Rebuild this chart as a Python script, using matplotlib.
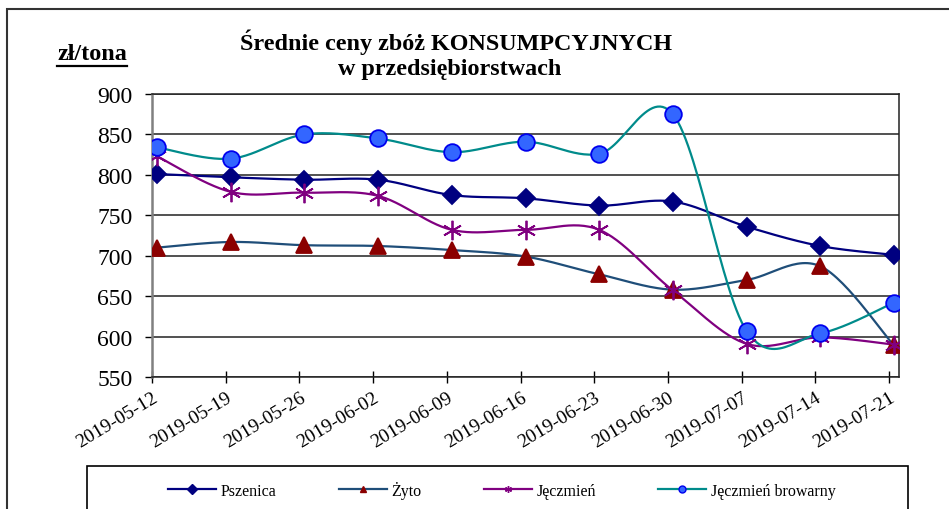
#Average prices of consumer grain in enterprises - line chart with smoothed lines
import matplotlib
matplotlib.use("Agg")
import matplotlib.pyplot as plt
from matplotlib.patches import Rectangle
from matplotlib.lines import Line2D
from matplotlib.transforms import ScaledTranslation
import numpy as np

plt.rcParams['font.family'] = ['Liberation Serif', 'DejaVu Serif']

DATES = ["2019-05-12", "2019-05-19", "2019-05-26", "2019-06-02", "2019-06-09", "2019-06-16",
         "2019-06-23", "2019-06-30", "2019-07-07", "2019-07-14", "2019-07-21"]
PSZENICA = [801, 797, 794, 794, 775, 771, 762, 767, 736, 712, 701]     #Pszenica (diamonds)
ZYTO = [710, 717, 713, 712, 707, 699, 677, 658, 670, 687, 589]         #Żyto (triangles)
JECZMIEN = [823, 779, 778, 774, 732, 732, 732, 657, 591, 599, 590]     #Jęczmień (stars)
BROWARNY = [834, 820, 850, 845, 828, 841, 826, 875, 607, 604, 642]     #Jęczmień browarny (circles)
YTICKS = [550, 600, 650, 700, 750, 800, 850, 900]


def smooth(y, n=30):
    #Catmull-Rom style bezier, like the "smoothed line" option in a spreadsheet
    x = np.arange(len(y), dtype=float)
    y = np.asarray(y, dtype=float)
    xs, ys = [], []
    for i in range(len(y) - 1):
        i0 = max(i - 1, 0)
        i3 = min(i + 2, len(y) - 1)
        p0 = np.array([x[i], y[i]])
        p3 = np.array([x[i + 1], y[i + 1]])
        c1 = p0 + (np.array([x[i + 1], y[i + 1]]) - np.array([x[i0], y[i0]])) / 6.0
        c2 = p3 - (np.array([x[i3], y[i3]]) - np.array([x[i], y[i]])) / 6.0
        t = np.linspace(0, 1, n)[:, None]
        pts = (1 - t) ** 3 * p0 + 3 * (1 - t) ** 2 * t * c1 + 3 * (1 - t) * t ** 2 * c2 + t ** 3 * p3
        xs.extend(pts[:, 0])
        ys.extend(pts[:, 1])
    return np.array(xs), np.array(ys)


fig = plt.figure(figsize=(9.49, 5.10), dpi=100)
ax = fig.add_axes([152 / 949, 1 - 378 / 510, (899 - 152) / 949, (378 - 95) / 510])

X = np.arange(len(DATES))
series = [
    (PSZENICA, '#000080', 'D', '#000080', '#000080', 9.5, 'Pszenica'),
    (ZYTO, '#1F4E79', '^', '#8B0000', '#8B0000', 12, 'Żyto'),
    (JECZMIEN, '#800080', (6, 2, 0), '#800080', '#800080', 14, 'Jęczmień'),
    (BROWARNY, '#008B8B', 'o', '#3366FF', '#0000EE', 12, 'Jęczmień browarny'),
]
handles = []
for vals, lc, mk, mfc, mec, ms, lab in series:
    sx, sy = smooth(vals)
    ax.plot(sx, sy, color=lc, lw=1.6, zorder=3)
    ax.plot(X, vals, ls='none', marker=mk, markersize=ms, markerfacecolor=mfc,
            markeredgecolor=mec, markeredgewidth=1.3, zorder=4)
    handles.append(Line2D([], [], color=lc, lw=1.6, marker=mk, markersize=5,
                          markerfacecolor=mfc, markeredgecolor=mec, markeredgewidth=1, label=lab))

off = 5 / 73.7
ax.set_xlim(-off, len(DATES) - 1 + off)
ax.set_ylim(550, 900)
ax.set_yticks(YTICKS)
ax.set_yticklabels([str(v) for v in YTICKS], fontsize=17)
ax.set_xticks(X - off)
ax.set_xticklabels(DATES, fontsize=14, rotation=31, ha='right', va='top', rotation_mode='anchor')
for lbl in ax.get_xticklabels():
    lbl.set_transform(lbl.get_transform() + ScaledTranslation(6 / 100, -3 / 100, fig.dpi_scale_trans))
ax.tick_params(axis='y', direction='out', length=5, width=1, pad=9)
ax.tick_params(axis='x', direction='inout', length=9, width=1, pad=4)
ax.grid(axis='y', color='#222222', lw=1.1)
ax.set_axisbelow(True)
ax.spines['left'].set_color('#808080')
ax.spines['left'].set_linewidth(1.8)
for s in ['top', 'right', 'bottom']:
    ax.spines[s].set_color('#222222')
    ax.spines[s].set_linewidth(1.1)

fig.text(456 / 949, 1 - 42 / 510, 'Średnie ceny zbóż KONSUMPCYJNYCH', ha='center', va='center',
         fontsize=17.4, fontweight='bold')
fig.text(450 / 949, 1 - 70 / 510, 'w przedsiębiorstwach', ha='center', va='center',
         fontsize=17.4, fontweight='bold')
fig.text(57 / 949, 1 - 55 / 510, 'zł/tona', ha='left', va='center', fontsize=17.5, fontweight='bold')
fig.add_artist(Line2D([57 / 949, 127 / 949], [1 - 67 / 510] * 2, color='black', lw=1.6))

#outer chart frame and legend box
fig.add_artist(Rectangle((7 / 949, -0.1), 1.0, 1 - 10 / 510 + 0.1, fill=False,
                         edgecolor='#333333', lw=1.5))
fig.add_artist(Rectangle((87 / 949, -0.1), (908 - 87) / 949, 0.1 + 1 - 467 / 510, fill=False,
                         edgecolor='black', lw=1.2))
fig.legend(handles=handles, loc='center', bbox_to_anchor=(502 / 949, 1 - 491 / 510), ncol=4,
           frameon=False, fontsize=11.5, handlelength=3.0, handletextpad=0.3, columnspacing=3.9)

fig.savefig('out.png', dpi=100)
